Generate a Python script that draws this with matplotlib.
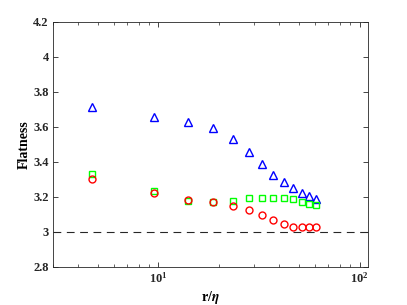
import numpy as np
import matplotlib
matplotlib.use('Agg')
import matplotlib.pyplot as plt

# r/eta separations
r_eta = [4.7, 9.5, 14.0, 18.7, 23.5, 28.3, 32.8, 37.3, 42.0, 46.5, 51.6, 56.1, 60.7]

# flatness for the three components
flat_tri = [3.716, 3.659, 3.627, 3.593, 3.530, 3.455, 3.389, 3.326, 3.286, 3.250, 3.225, 3.206, 3.190]
flat_sq = [3.331, 3.236, 3.179, 3.171, 3.179, 3.193, 3.194, 3.196, 3.196, 3.187, 3.171, 3.160, 3.153]
flat_circ = [3.305, 3.221, 3.181, 3.170, 3.150, 3.127, 3.097, 3.069, 3.046, 3.030, 3.027, 3.027, 3.029]

plt.rcParams['font.family'] = ['Liberation Serif', 'DejaVu Serif']
plt.rcParams['mathtext.fontset'] = 'stix'

fig = plt.figure(figsize=(4.07, 3.05), dpi=100)
ax = fig.add_axes([0.130, 0.1246, 0.774, 0.8034])

ax.plot(r_eta, flat_tri, '^', mfc='none', mec='b', ms=6, mew=1.0)
ax.plot(r_eta, flat_sq, 's', mfc='none', mec='#00ff00', ms=4, mew=1.0)
ax.plot(r_eta, flat_circ, 'o', mfc='none', mec='r', ms=5, mew=1.0)
ax.axhline(3, color='#262626', ls=(0, (7, 5)), lw=0.8)

ax.set_xscale('log')
ax.set_xlim(3, 110)
ax.set_ylim(2.8, 4.2)
ax.set_yticks([2.8, 3, 3.2, 3.4, 3.6, 3.8, 4, 4.2])
ax.set_yticklabels(['2.8', '3', '3.2', '3.4', '3.6', '3.8', '4', '4.2'])

ax.tick_params(which='both', direction='in', top=True, right=True, labelsize=9, colors='#262626')
ax.tick_params(which='major', length=3.5, width=0.6, pad=3)
ax.tick_params(which='minor', length=2, width=0.5)
for lab in ax.get_xticklabels() + ax.get_yticklabels():
    lab.set_fontweight('bold')
for sp in ax.spines.values():
    sp.set_color('#262626')
    sp.set_linewidth(0.6)

ax.set_xlabel(r'r/$\boldsymbol{\eta}$', fontsize=10, fontweight='bold', labelpad=2)
ax.set_ylabel('Flatness', fontsize=10, fontweight='bold', labelpad=2)

fig.savefig('out.png', dpi=100)
